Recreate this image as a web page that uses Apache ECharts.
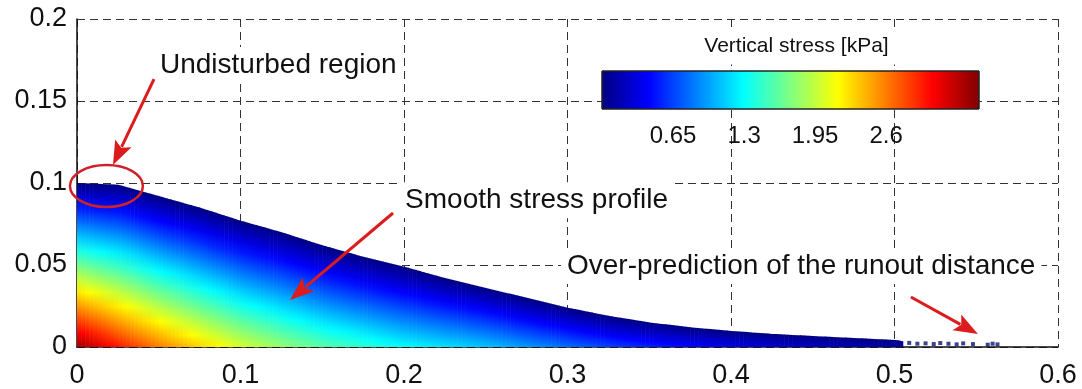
<!DOCTYPE html>
<html>
<head>
<meta charset="utf-8">
<script src="https://cdn.jsdelivr.net/npm/echarts@6/dist/echarts.min.js"></script>
<style>
  html, body { margin: 0; padding: 0; background: #fff; }
  #chart { width: 1082px; height: 389px; }
</style>
</head>
<body>
<div id="chart"></div>
<script>
// Axis ticks
const xTicks = [0, 0.1, 0.2, 0.3, 0.4, 0.5, 0.6];
const yTicks = [0, 0.05, 0.1, 0.15, 0.2];

// Colour bar: vertical stress range [kPa] and its labelled ticks
const stressMax = 3.45;
const cbTicks = [0.65, 1.3, 1.95, 2.6];

// Free-surface height of the collapsed column [m] along x [m]
const surfX = [0, 0.025, 0.05, 0.075, 0.1, 0.125, 0.15, 0.175, 0.2, 0.225, 0.25,
               0.275, 0.3, 0.325, 0.35, 0.375, 0.4, 0.425, 0.45, 0.475, 0.5, 0.505];
const surfTop = [0.100, 0.099, 0.092, 0.085, 0.077, 0.070, 0.062, 0.055, 0.049, 0.042, 0.036,
                 0.030, 0.024, 0.019, 0.015, 0.012, 0.0098, 0.008, 0.0067, 0.0055, 0.0043, 0.0035];
// Vertical stress at the base (y = 0) [kPa]
const baseStress = [3.35, 2.95, 2.6, 2.3, 2.02, 1.8, 1.6, 1.45, 1.3, 1.2, 1.1,
                    0.95, 0.8, 0.66, 0.55, 0.45, 0.36, 0.29, 0.23, 0.18, 0.14, 0.12];

// Isolated particles beyond the main deposit
const tailX = [0.509, 0.514, 0.519, 0.524, 0.528, 0.533, 0.538, 0.542, 0.548, 0.557, 0.560, 0.563];
const tailY = [0.0025, 0.002, 0.0022, 0.0018, 0.0024, 0.002, 0.0016, 0.0022, 0.0018, 0.0014, 0.002, 0.0016];

// Annotations (data coordinates of the main axes; label positions give the box's left edge)
const notes = {
  undisturbed: { text: 'Undisturbed region', at: [0.0471, 0.172], arrow: [[0.0471, 0.1634], [0.022, 0.111]],
                 ring: { c: [0.018, 0.0982], r: [0.0223, 0.0128] } },
  smooth: { text: 'Smooth stress profile', at: [0.197, 0.0895], arrow: [[0.1933, 0.0817], [0.1303, 0.0287]] },
  runout: { text: 'Over-prediction of the runout distance', at: [0.296, 0.0494], arrow: [[0.510, 0.0305], [0.551, 0.0079]] }
};

const FONT = "'Liberation Sans', Arial, Helvetica, sans-serif";
const RED = '#dc1c1c';

// jet colormap
function clamp01(v) { return Math.max(0, Math.min(1, v)); }
function jet(t) {
  t = clamp01(t);
  const r = clamp01(Math.min(4 * t - 1.5, -4 * t + 4.5));
  const g = clamp01(Math.min(4 * t - 0.5, -4 * t + 3.5));
  const b = clamp01(Math.min(4 * t + 0.5, -4 * t + 2.5));
  return 'rgb(' + Math.round(r * 255) + ',' + Math.round(g * 255) + ',' + Math.round(b * 255) + ')';
}

// Segments of the deposit between consecutive surface samples
const segments = surfX.slice(0, -1).map((x, i) =>
  [x, surfTop[i], baseStress[i], surfX[i + 1], surfTop[i + 1], baseStress[i + 1]]);

function renderDeposit(params, api) {
  const x0 = api.value(0), h0 = api.value(1), s0 = api.value(2);
  const x1 = api.value(3), h1 = api.value(4), s1 = api.value(5);
  const N = 10, children = [];
  for (let k = 0; k < N; k++) {
    const a = k / N, b = (k + 1) / N;
    const xa = x0 + (x1 - x0) * a, xb = x0 + (x1 - x0) * b;
    const ha = h0 + (h1 - h0) * a, hb = h0 + (h1 - h0) * b;
    const sm = s0 + (s1 - s0) * (a + b) / 2;
    const pA0 = api.coord([xa, 0]), pAt = api.coord([xa, ha]);
    const pB0 = api.coord([xb, 0]), pBt = api.coord([xb, hb]);
    const topY = Math.min(pAt[1], pBt[1]);
    const stops = [];
    for (let j = 0; j <= 12; j++) {
      const f = j / 12;
      stops.push({ offset: f, color: jet(sm * f / stressMax) });
    }
    children.push({
      type: 'polygon',
      shape: { points: [[pA0[0], pA0[1] + 0.5], [pAt[0], pAt[1]], [pBt[0] + 0.6, pBt[1]], [pB0[0] + 0.6, pB0[1] + 0.5]] },
      style: { fill: new echarts.graphic.LinearGradient(0, topY, 0, pA0[1], stops, true) },
      silent: true
    });
  }
  return { type: 'group', children };
}

function renderColorbar(params, api) {
  const p0 = api.coord([api.value(0), 0]);
  const p1 = api.coord([api.value(1), 1]);
  const stops = [];
  for (let j = 0; j <= 16; j++) stops.push({ offset: j / 16, color: jet(j / 16) });
  return {
    type: 'rect',
    shape: { x: p0[0], y: p1[1], width: p1[0] - p0[0], height: p0[1] - p1[1] },
    style: { fill: new echarts.graphic.LinearGradient(0, 0, 1, 0, stops), stroke: '#222', lineWidth: 1 }
  };
}

const chart = echarts.init(document.getElementById('chart'), null, { renderer: 'canvas' });

const dash = { color: '#333', width: 1, type: [8, 5] };

chart.setOption({
  animation: false,
  backgroundColor: '#fff',
  grid: [
    { left: 77, right: 24, top: 19, bottom: 42 },
    { left: 602, width: 377, top: 71, height: 38 }
  ],
  xAxis: [
    {
      gridIndex: 0, type: 'value',
      min: xTicks[0], max: xTicks[xTicks.length - 1], interval: xTicks[1] - xTicks[0],
      axisLine: { show: true, lineStyle: { color: '#111', width: 1.5 } },
      axisTick: { show: false },
      axisLabel: { color: '#111', fontSize: 27, fontFamily: FONT, margin: 15 },
      splitLine: { show: true, lineStyle: dash }
    },
    {
      gridIndex: 1, type: 'value', min: 0, max: stressMax, position: 'bottom',
      axisLine: { show: false },
      axisTick: { show: true, inside: true, length: 4, customValues: cbTicks, lineStyle: { color: '#222' } },
      axisLabel: { customValues: cbTicks, color: '#111', fontSize: 24, fontFamily: FONT, margin: 15 },
      splitLine: { show: false }
    }
  ],
  yAxis: [
    {
      gridIndex: 0, type: 'value',
      min: yTicks[0], max: yTicks[yTicks.length - 1], interval: yTicks[1] - yTicks[0],
      axisLine: { show: true, lineStyle: { color: '#111', width: 1.5 } },
      axisTick: { show: false },
      axisLabel: { color: '#111', fontSize: 27, fontFamily: FONT, margin: 10 },
      splitLine: { show: true, lineStyle: dash }
    },
    { gridIndex: 1, type: 'value', min: 0, max: 1, show: false }
  ],
  series: [
    {
      type: 'custom', xAxisIndex: 0, yAxisIndex: 0, clip: true,
      renderItem: renderDeposit, data: segments,
      encode: { x: [0, 3], y: [1, 4] }, z: 2
    },
    {
      type: 'scatter', xAxisIndex: 0, yAxisIndex: 0,
      data: tailX.map((x, i) => [x, tailY[i]]),
      symbol: 'rect', symbolSize: [4, 4],
      itemStyle: { color: '#0a1670' }, z: 3, silent: true
    },
    {
      type: 'custom', xAxisIndex: 1, yAxisIndex: 1,
      renderItem: renderColorbar, data: [[0, stressMax]],
      encode: { x: [0, 1] }, z: 5, silent: true
    }
  ]
});

// Annotations: labels, arrows and the marked region
function px(p) { return chart.convertToPixel({ gridIndex: 0 }, p); }

function arrow(from, to) {
  const a = px(from), b = px(to);
  const dx = b[0] - a[0], dy = b[1] - a[1];
  const L = Math.hypot(dx, dy), ux = dx / L, uy = dy / L;
  const headL = 24, headW = 9;
  const bx = b[0] - ux * headL, by = b[1] - uy * headL;
  return [
    { type: 'line', z: 60, silent: true,
      shape: { x1: a[0], y1: a[1], x2: bx + ux * 4, y2: by + uy * 4 },
      style: { stroke: RED, lineWidth: 3 } },
    { type: 'polygon', z: 60, silent: true,
      shape: { points: [[b[0], b[1]], [bx - uy * headW, by + ux * headW], [bx + ux * 5, by + uy * 5], [bx + uy * headW, by - ux * headW]] },
      style: { fill: RED } }
  ];
}

function label(n) {
  const p = px(n.at);
  return {
    type: 'text', z: 50, silent: true, x: p[0], y: p[1],
    style: {
      text: n.text, font: '28px ' + FONT, fill: '#111',
      align: 'left', verticalAlign: 'middle',
      backgroundColor: '#fff', padding: [4, 6, 4, 6]
    }
  };
}

const cbL = chart.convertToPixel({ xAxisIndex: 1 }, 0);
const cbR = chart.convertToPixel({ xAxisIndex: 1 }, stressMax);
const ringC = px(notes.undisturbed.ring.c);
const ringE = px([notes.undisturbed.ring.c[0] + notes.undisturbed.ring.r[0],
                  notes.undisturbed.ring.c[1] + notes.undisturbed.ring.r[1]]);

chart.setOption({
  graphic: [
    label(notes.undisturbed), label(notes.smooth), label(notes.runout),
    ...arrow(notes.undisturbed.arrow[0], notes.undisturbed.arrow[1]),
    ...arrow(notes.smooth.arrow[0], notes.smooth.arrow[1]),
    ...arrow(notes.runout.arrow[0], notes.runout.arrow[1]),
    {
      type: 'ellipse', z: 60, silent: true,
      shape: { cx: ringC[0], cy: ringC[1], rx: Math.abs(ringE[0] - ringC[0]), ry: Math.abs(ringE[1] - ringC[1]) },
      style: { fill: 'none', stroke: '#d0202a', lineWidth: 2.5 }
    },
    {
      type: 'text', z: 50, silent: true, x: (cbL + cbR) / 2 + 6, y: 46,
      style: {
        text: 'Vertical stress [kPa]', font: '21px ' + FONT, fill: '#111',
        align: 'center', verticalAlign: 'middle',
        backgroundColor: '#fff', padding: [8, 14, 8, 14]
      }
    }
  ]
});
</script>
</body>
</html>
